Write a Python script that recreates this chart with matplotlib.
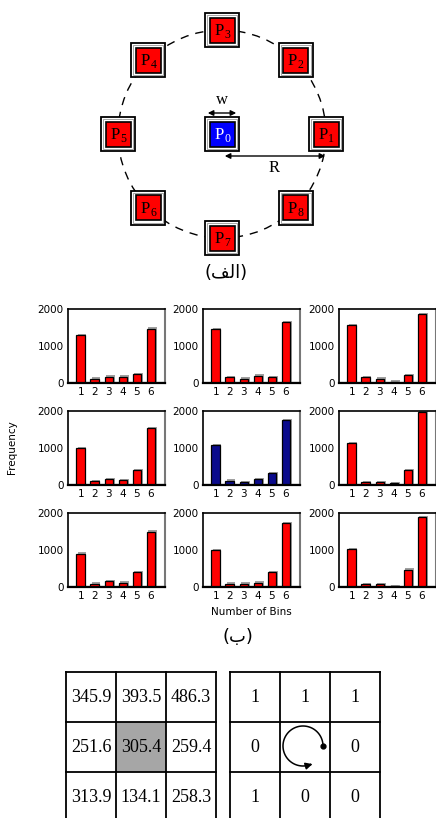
import numpy as np
import matplotlib
matplotlib.use("Agg")
import matplotlib.pyplot as plt
from matplotlib.patches import Rectangle, Circle

W, H = 436, 818

# ---- data -------------------------------------------------------------
patch_labels = ["1", "2", "3", "4", "5", "6", "7", "8"]
center_label = "0"

bins = [1, 2, 3, 4, 5, 6]
bin_ticks = ["1", "2", "3", "4", "5", "6"]
y_ticks = [0, 1000, 2000]

hist_p4 = [1290, 120, 170, 170, 230, 1470]
hist_p3 = [1450, 150, 120, 200, 150, 1650]
hist_p2 = [1560, 150, 120, 40, 220, 1860]
hist_p5 = [1000, 100, 150, 140, 400, 1540]
hist_p0 = [1080, 120, 80, 160, 320, 1760]
hist_p1 = [1140, 80, 80, 50, 400, 1960]
hist_p6 = [900, 90, 150, 120, 400, 1500]
hist_p7 = [1000, 90, 90, 120, 400, 1720]
hist_p8 = [1020, 80, 80, 30, 470, 1890]
panels = [hist_p4, hist_p3, hist_p2,
          hist_p5, hist_p0, hist_p1,
          hist_p6, hist_p7, hist_p8]

mean_vals = [[345.9, 393.5, 486.3],
             [251.6, 305.4, 259.4],
             [313.9, 134.1, 258.3]]
lbp_bits = [["1", "1", "1"],
            ["0", "", "0"],
            ["1", "0", "0"]]

# captions, pre-shaped arabic glyphs in visual order
caption_a = "(\ufed2\ufedf\ufe8d)"
caption_b = "(\ufe8f)"


def fbox(left, top, w, h):
    return [left / W, 1 - (top + h) / H, w / W, h / H]


fig = plt.figure(figsize=(W / 100, H / 100), dpi=100)

# ---- (a) patch layout -------------------------------------------------
axd = fig.add_axes([0, 0, 1, 1])
axd.set_xlim(0, W)
axd.set_ylim(H, 0)
axd.axis("off")

cx, cy, rad = 222, 134, 104
outer, inner = 34, 25
axd.add_patch(Circle((cx, cy), rad, fill=False, ls=(0, (6, 5)), lw=1, color="black", zorder=1))


def patch_box(x, y, face, sub, tcolor):
    axd.add_patch(Rectangle((x - outer / 2, y - outer / 2), outer, outer,
                            fc="white", ec="black", lw=1.3, zorder=2))
    axd.add_patch(Rectangle((x - outer / 2 + 2, y - outer / 2 + 2), outer - 4, outer - 4,
                            fc="none", ec="#999999", lw=0.6, zorder=2))
    axd.add_patch(Rectangle((x - inner / 2, y - inner / 2), inner, inner,
                            fc=face, ec="black", lw=1.2, zorder=3))
    axd.text(x - 3, y + 1, "P", color=tcolor, fontsize=12, family="Liberation Serif",
             ha="center", va="center", zorder=4)
    axd.text(x + 5, y + 5, sub, color=tcolor, fontsize=8.5, family="Liberation Serif",
             ha="center", va="center", zorder=4)


for k, lab in enumerate(patch_labels):
    ang = np.deg2rad(45 * k)
    patch_box(cx + rad * np.cos(ang), cy - rad * np.sin(ang), "#ff0000", lab, "black")
patch_box(cx, cy, "#0000ff", center_label, "white")

axd.annotate("", xy=(cx - outer / 2, 113), xytext=(cx + outer / 2, 113),
             arrowprops=dict(arrowstyle="<|-|>", color="black", lw=1, mutation_scale=8))
axd.text(cx, 108, "w", fontsize=12, family="Liberation Serif", ha="center", va="bottom")
axd.annotate("", xy=(cx, 156), xytext=(cx + rad + 2, 156),
             arrowprops=dict(arrowstyle="<|-|>", color="black", lw=1, mutation_scale=8))
axd.text(cx + rad / 2, 160, "R", fontsize=12, family="Liberation Serif", ha="center", va="top")
axd.text(226, 273, caption_a, fontsize=13, family="DejaVu Sans", ha="center", va="center")

# ---- (b) histograms ---------------------------------------------------
lefts = [68, 203, 339]
tops = [309, 411, 513]
for i, vals in enumerate(panels):
    r, c = divmod(i, 3)
    ax = fig.add_axes(fbox(lefts[c], tops[r], 97, 74))
    color = "#0b0b8c" if i == 4 else "#ff0000"
    ax.axhspan(0, 35, color="#bbbbbb", zorder=0)
    ax.bar(np.array(bins) + 0.1, np.array(vals) + 35, width=0.62, color="#a0a0a0", zorder=1)
    ax.bar(bins, vals, width=0.6, color=color, ec="black", lw=0.9, zorder=2)
    ax.set_xlim(0.1, 7.0)
    ax.set_ylim(0, 2000)
    ax.set_xticks(bins)
    ax.set_xticklabels(bin_ticks)
    ax.set_yticks(y_ticks)
    ax.tick_params(length=0, labelsize=7.5, pad=3)
    for s in ["top", "left"]:
        ax.spines[s].set_linewidth(1.2)
    ax.spines["bottom"].set_linewidth(1.6)
    ax.spines["right"].set_color("#777777")
    ax.spines["right"].set_linewidth(1.5)
    if i == 7:
        ax.set_xlabel("Number of Bins", fontsize=7.5, labelpad=4)

fig.text(12 / W, 1 - 447 / H, "Frequency", rotation=90, fontsize=7.5,
         ha="center", va="center")
axd.text(238, 637, caption_b, fontsize=13, family="DejaVu Sans", ha="center", va="center")

# ---- tables -----------------------------------------------------------
cell = 50
ttop = 672
for x0, cells in [(66, [["%.1f" % v for v in row] for row in mean_vals]), (230, lbp_bits)]:
    for j in range(4):
        axd.plot([x0 + j * cell] * 2, [ttop, H + 5], color="black", lw=1.3)
        if j < 3:
            axd.plot([x0, x0 + 3 * cell], [ttop + j * cell] * 2, color="black", lw=1.3)
    for r in range(3):
        for c in range(3):
            axd.text(x0 + (c + 0.5) * cell, ttop + (r + 0.5) * cell, cells[r][c],
                     family="Liberation Serif", fontsize=13, ha="center", va="center")

axd.add_patch(Rectangle((66 + cell, ttop + cell), cell, cell, fc="#a6a6a6", ec="none", zorder=0))

# rotation arrow in the middle cell of the code table
acx, acy, ar = 303, 746, 20
t = np.deg2rad(np.linspace(0, 292, 100))
ax_x = acx + ar * np.cos(t)
ax_y = acy - ar * np.sin(t)
axd.plot(ax_x, ax_y, color="black", lw=1.1)
axd.plot(ax_x[0], ax_y[0], "o", color="black", ms=3.5)
axd.annotate("", xy=(ax_x[-1] + 2, ax_y[-1] - 0.5), xytext=(ax_x[-4], ax_y[-4]),
             arrowprops=dict(arrowstyle="-|>", color="black", lw=1.1, mutation_scale=10))

fig.savefig("out.png", dpi=100)
